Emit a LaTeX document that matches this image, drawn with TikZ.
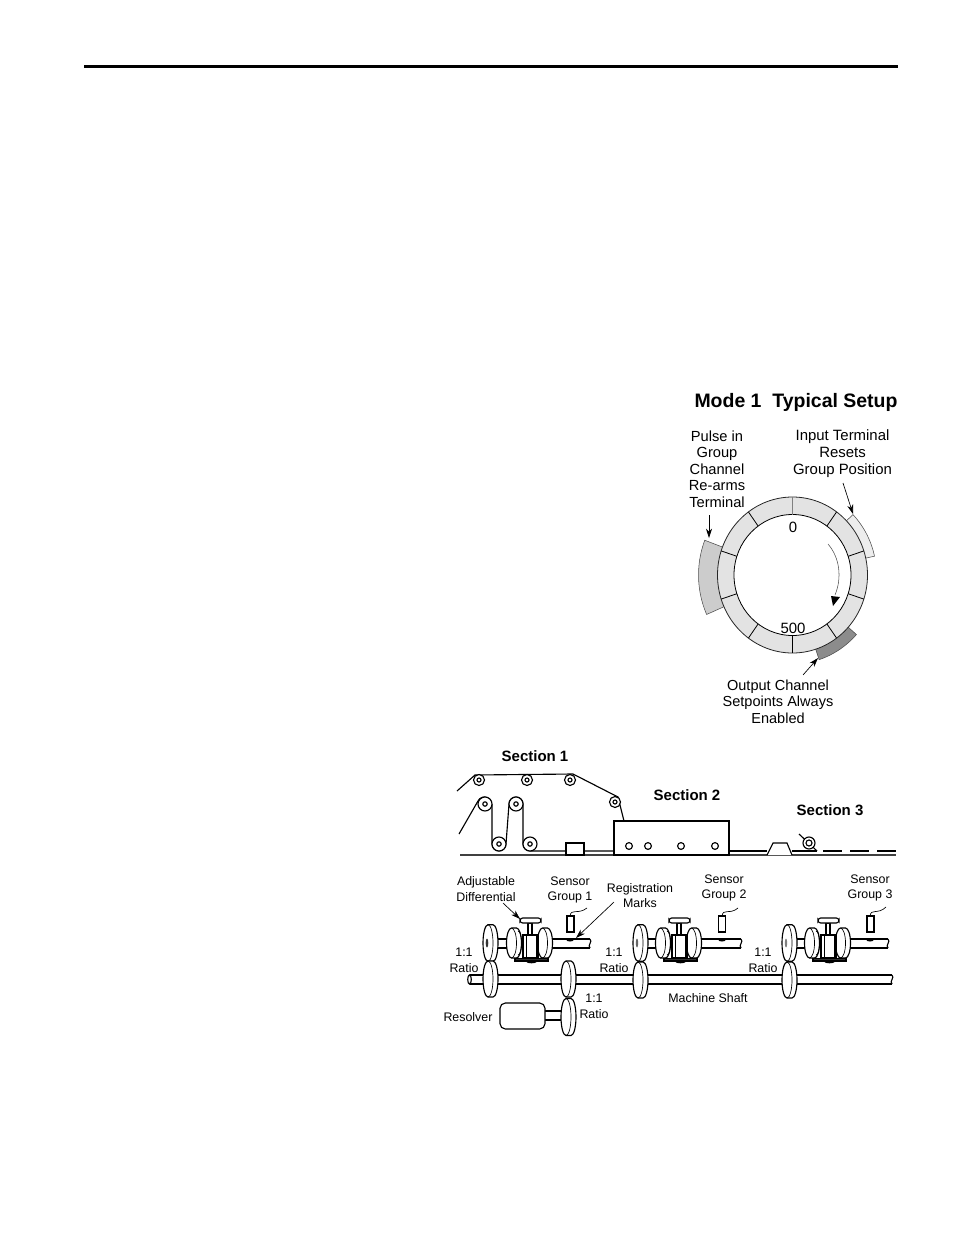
\documentclass[tikz,border=0pt]{standalone}
\usepackage{fontspec}
\usetikzlibrary{arrows.meta}
\setmainfont{Liberation Sans}
\newcommand\lfont{\fontsize{9.3pt}{11.9pt}\selectfont}
\newcommand\cfont{\fontsize{11.2pt}{12.4pt}\selectfont}
\newcommand\sfont{\fontsize{11.25pt}{13pt}\selectfont\bfseries}
\newcommand\mdisc[3]{%
  \draw[mech,fill=white] (#1-2.5,#2-#3) -- (#1+2.5,#2-#3) arc[start angle=-90,end angle=90,x radius=5,y radius=#3]
    -- (#1-2.5,#2+#3) arc[start angle=90,end angle=270,x radius=5,y radius=#3] -- cycle;
  \draw[thin] (#1-2.5,#2-#3) arc[start angle=-90,end angle=90,x radius=5,y radius=#3];
}
\newcommand\breakend[3]{\draw[mech,fill=white] (#1,#2) .. controls (#1+3,#2+3) and (#1-3,#3-3) .. (#1,#3);}
\newcommand\diffunit[1]{%
  \mdisc{#1-16}{943}{15}
  \draw[thin] (#1-12,931) arc[start angle=-90,end angle=90,x radius=3.5,y radius=12];
  \mdisc{#1+15}{943}{15}
  \draw[mech,fill=black!80] (#1-15,958.5) rectangle (#1+18,961);
  \fill[black] (#1+1.5,962) ellipse (5 and 1.3);
  \draw[mech,fill=white] (#1-7,935) rectangle (#1+8,958);
  \draw[thin] (#1-4,935) -- (#1-4,958);
  \draw[thin] (#1+6,935) -- (#1+6,958);
  \draw[mech,fill=white] (#1-2,923) rectangle (#1+2,935);
  \draw[mech,fill=white,rounded corners=2pt] (#1-10,918) rectangle (#1+11,923);
}
\newcommand\roller[4]{% x y R r
  \draw[mech,fill=white] (#1,#2) circle (#3);
  \draw[mech] (#1,#2) circle (#4);
}
\begin{document}
\begin{tikzpicture}[x=0.75pt,y=-0.75pt,
  mech/.style={line width=0.85pt,draw=black},
  thin/.style={line width=0.5pt,draw=black},
  ptr/.style={line width=0.5pt,draw=black,-{Stealth[length=7pt,width=4.5pt]}},
  sector/.style={line width=0.4pt,draw=black!70},
  clab/.style={font=\cfont,align=center,inner sep=0pt},
  llab/.style={font=\lfont,align=center,inner sep=0pt},
  slab/.style={font=\sfont,align=center,inner sep=0pt}]
\useasboundingbox (0,0) rectangle (954,1235);
\fill[white] (0,0) rectangle (954,1235);
\coordinate (rl) at (84,66.5);
\coordinate (rr) at (898,66.5);
\draw[line width=2.2pt] (rl) -- (rr);

% ---- Mode 1 ----
\node[inner sep=0pt,font=\fontsize{14.6pt}{16pt}\selectfont\bfseries] (title) at (796,402) {Mode 1\ \ Typical Setup};
\def\cx{792.5}\def\cy{575}
\draw[sector,fill=black!20] plot[domain=246:291,samples=24] ({\cx+94*sin(\x)},{\cy-97*cos(\x)})
  -- plot[domain=291:246,samples=24] ({\cx+72*sin(\x)},{\cy-75*cos(\x)}) -- cycle;
\draw[sector,fill=black!7] plot[domain=46:77.5,samples=16] ({\cx+84*sin(\x)},{\cy-87*cos(\x)})
  -- plot[domain=77.5:46,samples=16] ({\cx+74*sin(\x)},{\cy-77*cos(\x)}) -- cycle;
\draw[sector,fill=black!45] plot[domain=132:162,samples=16] ({\cx+86*sin(\x)},{\cy-89*cos(\x)})
  -- plot[domain=162:132,samples=16] ({\cx+74*sin(\x)},{\cy-77*cos(\x)}) -- cycle;
\draw[line width=0.6pt,draw=black!85,fill=black!11] (\cx,\cy) ellipse (75 and 78);
\draw[line width=0.6pt,draw=black,fill=white] (\cx,\cy) ellipse (58.5 and 60.5);
\draw[line width=1pt,draw=black!50] (\cx,\cy-78) -- (\cx,\cy-60.5);
\foreach \a in {36,72,108,144,180,216,252,288,324}
  \draw[line width=0.6pt] ({\cx+58.5*sin(\a)},{\cy-60.5*cos(\a)}) -- ({\cx+75*sin(\a)},{\cy-78*cos(\a)});
% direction arrow
\draw[line width=0.4pt,draw=black!70] (828,544) .. controls (840,558) and (842,578) .. (835,595);
\fill[black] (831,596) -- (840,597) -- (833,606) -- cycle;
\node[clab] (zero) at (793,527) {0};
\node[clab] (fivehundred) at (793,628) {500};
\node[clab,font=\fontsize{11pt}{12.35pt}\selectfont] (pulse) at (717,469) {Pulse in\\Group\\Channel\\Re-arms\\Terminal};
\node[clab,font=\fontsize{11.2pt}{12.6pt}\selectfont] (input) at (842.5,453.5) {Input Terminal\\Resets\\Group Position};
\node[clab,font=\fontsize{10.9pt}{12.4pt}\selectfont] (output) at (778,701.5) {Output Channel\\Setpoints Always\\Enabled};
\coordinate (pa) at (709,515); \coordinate (pb) at (709,538);
\coordinate (ia) at (843,483); \coordinate (ib) at (853,514);
\coordinate (oa) at (803,675); \coordinate (ob) at (818,658);
\draw[ptr] (pa) -- (pb);
\draw[ptr] (ia) -- (ib);
\draw[ptr] (oa) -- (ob);

% ---- Web line ----
\node[slab] (s1) at (535,756) {Section 1};
\node[slab] (s2) at (687,795) {Section 2};
\node[slab] (s3) at (830,810) {Section 3};
\draw[line width=1.3pt,draw=black!75] (460,855) -- (896,855);
\draw[mech] (457,791) -- (475,775) -- (573,774) -- (618,797) -- (624,821);
\draw[mech] (459,834) -- (478,801) arc[start angle=205,end angle=360,radius=7]
   (492,804) -- (492,844) arc[start angle=180,end angle=0,radius=7] -- (509,804)
   arc[start angle=180,end angle=360,radius=7] -- (523,844) arc[start angle=180,end angle=90,radius=7] -- (614,851);
\roller{479}{780}{5.5}{2}
\roller{527}{780}{5.5}{2}
\roller{570}{780}{5.5}{2}
\roller{615}{802}{5.5}{2}
\roller{485}{804}{7}{2.2}
\roller{516}{804}{7}{2.2}
\roller{499}{844}{7}{2.2}
\roller{530}{844}{7}{2.2}
\draw[mech,fill=white] (566,843) rectangle (584,855);
\draw[mech,fill=white] (614,821) rectangle (729,855);
\foreach \x in {629,648,681,715} \draw[mech] (\x,846) circle (3.4);
\draw[mech] (729,851) -- (767,851);
\draw[mech,fill=white] (767,855) -- (773,843) -- (787,843) -- (792,855);
\draw[mech] (792,851) -- (817,851);
\draw[mech] (799,834) -- (817,851);
\roller{809}{843}{6}{3}
\draw[mech] (823,851) -- (842,851);
\draw[mech] (850,851) -- (869,851);
\draw[mech] (877,851) -- (896,851);

% ---- Mechanics: shafts ----
\draw[mech] (498,939) -- (510,939) (498,948) -- (510,948);
\draw[mech] (550,939) -- (590,939) (550,948) -- (590,948);
\breakend{590}{939}{948}
\draw[mech] (647,939) -- (662,939) (647,948) -- (662,948);
\draw[mech] (698,939) -- (741,939) (698,948) -- (741,948);
\breakend{741}{939}{948}
\draw[mech] (797,939) -- (810,939) (797,948) -- (810,948);
\draw[mech] (846,939) -- (888,939) (846,948) -- (888,948);
\breakend{888}{939}{948}
\fill[black] (570,940) ellipse (3.5 and 1.5);
\fill[black] (722,940) ellipse (3.5 and 1.5);
\fill[black] (870,940) ellipse (3.5 and 1.5);
\draw[mech] (470,975) -- (892,975) (470,984) -- (892,984);
\draw[mech,fill=white] (469.5,979.5) ellipse (1.8 and 4.5);
\breakend{892}{975}{984}
\draw[mech] (545,1011) -- (565,1011) (545,1020) -- (565,1020);
\draw[mech,fill=white,rounded corners=4pt] (500,1003) rectangle (545,1029);

% ---- Discs ----
\mdisc{490.5}{943}{18.3}
\mdisc{640.5}{943}{18.3}
\mdisc{789.5}{943}{18.3}
\fill[black!80] (487,943) ellipse (1.3 and 4.5);
\fill[black!60] (637,943) ellipse (1.2 and 4.5);
\fill[black!50] (786,943) ellipse (1.2 and 4.5);
\mdisc{490.5}{979}{18}
\mdisc{568.5}{979}{18}
\mdisc{640.5}{980}{18}
\mdisc{789.5}{980}{18}
\mdisc{568.5}{1017}{18.5}
\diffunit{530}
\diffunit{679}
\diffunit{828}

% ---- Sensors ----
\draw[mech,fill=white] (567,916) rectangle (574,932);
\draw[mech,fill=white] (718.5,916) rectangle (725.5,932);
\draw[mech,fill=white] (867,916) rectangle (874,932);
\draw[thin] (570,916) .. controls (571,908) and (578,915) .. (587,908);
\draw[thin] (722,916) .. controls (723,908) and (730,915) .. (738,908);
\draw[thin] (870,916) .. controls (871,908) and (878,915) .. (886,907);

% ---- Labels ----
\node[llab] (adj) at (486,889) {Adjustable\\Differential};
\node[llab] (sg1) at (570,890) {Sensor\\Group 1};
\node[llab] (reg) at (640,895.5) {Registration\\Marks};
\node[llab] (sg2) at (724,888) {Sensor\\Group 2};
\node[llab] (sg3) at (870,888) {Sensor\\Group 3};
\node[llab] (r1) at (464,960.5) {1:1\\Ratio};
\node[llab] (r2) at (614,960.5) {1:1\\Ratio};
\node[llab] (r3) at (763,960.5) {1:1\\Ratio};
\node[llab] (r4) at (594,1006) {1:1\\Ratio};
\node[llab] (res) at (468,1017) {Resolver};
\node[llab] (ms) at (708,998) {Machine Shaft};
\coordinate (aa) at (503,903); \coordinate (ab) at (520,919);
\coordinate (ra) at (614,902); \coordinate (rb) at (576,938);
\draw[ptr] (aa) -- (ab);
\draw[ptr] (ra) -- (rb);
\end{tikzpicture}
\end{document}
